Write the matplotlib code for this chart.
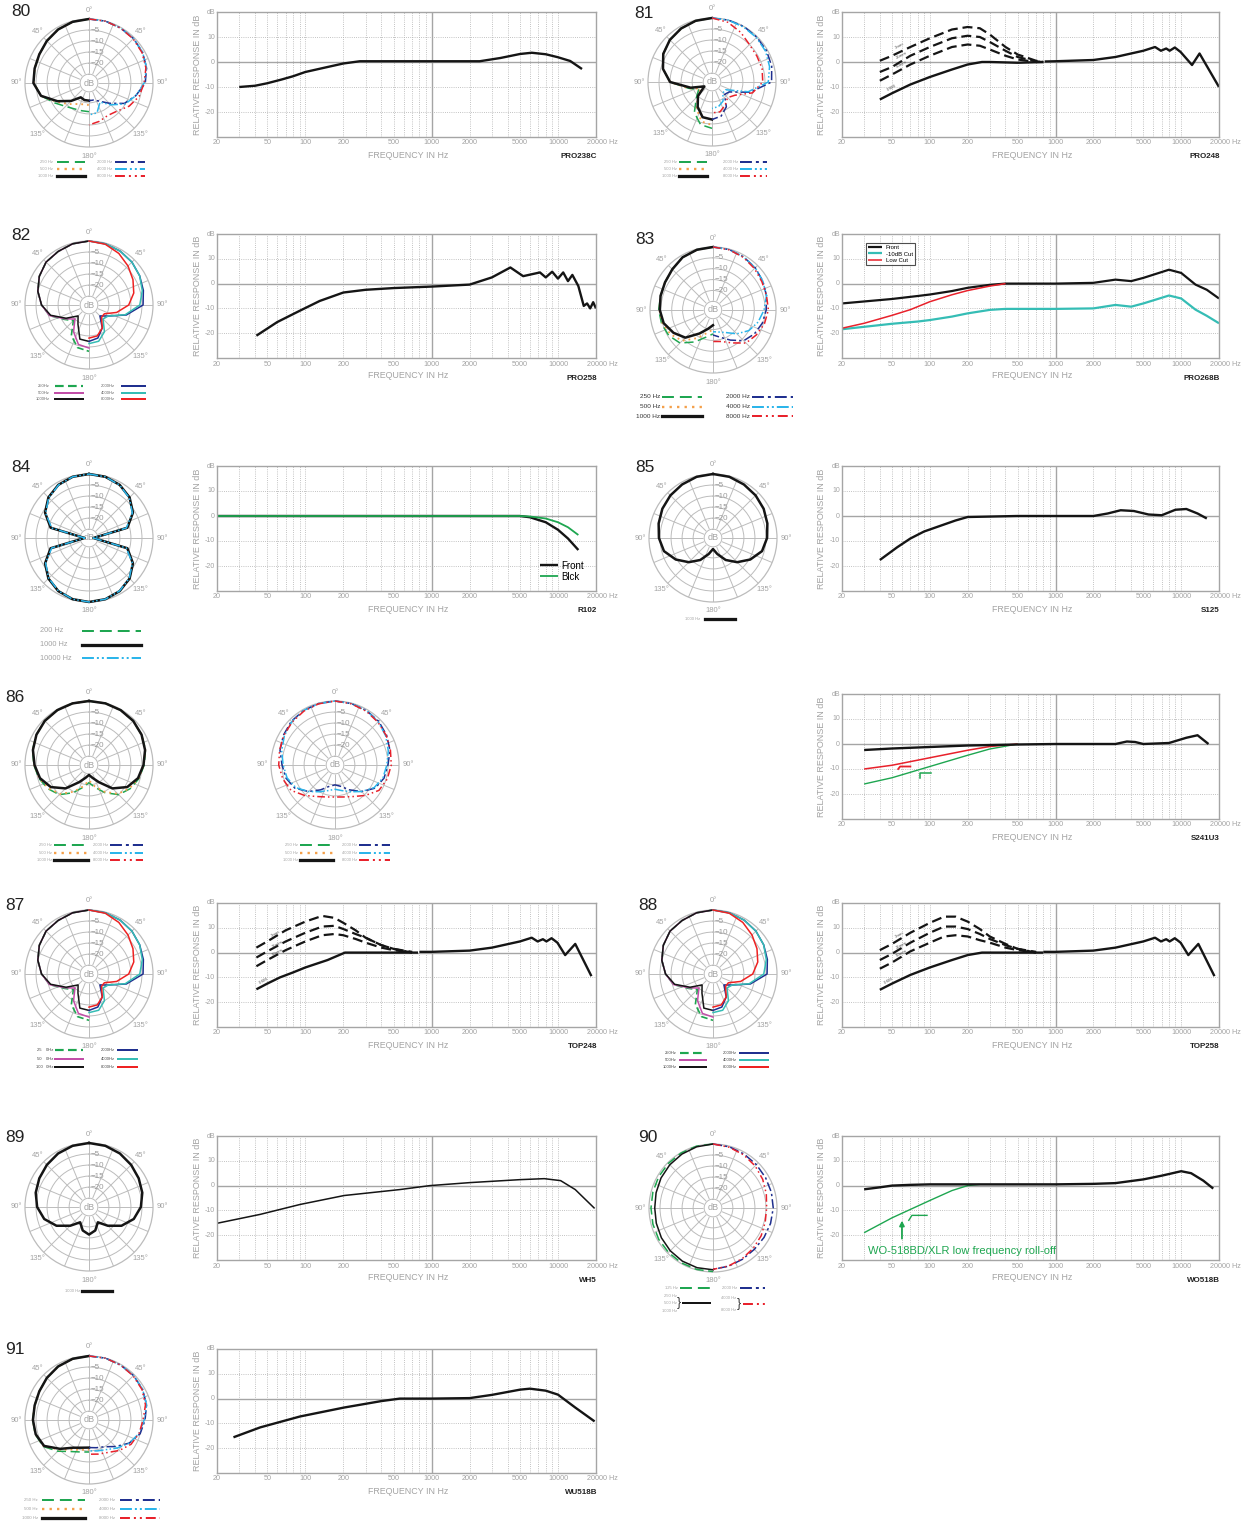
import numpy as np
import matplotlib.pyplot as plt
from matplotlib.lines import Line2D

plt.rcParams['font.family'] = ['Liberation Sans', 'DejaVu Sans']

W, H = 1249, 1523
fig = plt.figure(figsize=(W / 100, H / 100), dpi=100)

GRID = '#bcbcbc'
TXT = '#a3a3a3'

# ---------------- polar data (dB at 0..180 deg) ----------------
ANG = [0, 15, 30, 45, 60, 75, 90, 105, 120, 135, 150, 165, 180]

p80_250 = [0, -0.3, -1, -2, -3, -3.5, -4, -6.5, -11, -14, -15.5, -16, -16]
p80_500 = [0, -0.3, -1, -2, -3, -3.5, -4, -6.5, -12, -15.5, -18, -19, -19]
p80_1000 = [0, -0.3, -1, -2, -3, -3.5, -3.8, -6.5, -12.5, -17.5, -21.5, -21, -21]
p80_2000 = [0, 0, -0.3, -0.5, -1, -2, -3.5, -7, -10.5, -16, -19.5, -21, -21]
p80_4000 = [0, 0, -0.3, -0.5, -1, -2, -4, -7, -10, -15, -19, -15, -14.5]
p80_8000 = [0, 0, -0.3, -0.7, -1.3, -2.3, -4, -5.5, -8, -11, -12, -11, -10]

p81_250 = [0, -0.3, -1, -2, -3.5, -6, -10, -18, -22, -19, -13, -9, -8]
p81_500 = [0, -0.3, -1, -2, -3.5, -6, -10, -18, -23, -20, -15, -10.5, -9.5]
p81_1000 = [0, -0.3, -1, -2, -3.5, -6, -10, -19, -25, -20, -16, -12.5, -12]
p81_2000 = [0, 0, 0, -0.3, -0.5, -1, -2, -11, -20, -21, -16, -13, -12]
p81_4000 = [0, 0, -0.3, -0.5, -1, -2, -3.5, -12, -22, -22, -19, -17.5, -17]
p81_8000 = [0, -1, -3, -5, -5.5, -5.5, -6, -10, -17, -19, -17, -15, -15]

p82_250 = [0, -0.3, -1, -1.5, -3, -5, -7.5, -10.5, -16, -19, -13, -9, -8]
p82_500 = [0, -0.3, -1, -1.5, -3, -5, -7.5, -10.5, -16.5, -20, -15, -10.5, -9.5]
p82_1000 = [0, -0.3, -1, -1.5, -3, -5, -7.5, -11, -17, -22, -19, -13, -12.5]
p82_2000 = [0, -0.3, -0.8, -1.5, -2.5, -3.5, -4.5, -11.5, -19, -22, -17, -13.5, -12.5]
p82_4000 = [0, -0.3, -0.8, -1.5, -2.5, -4, -6, -12, -19, -20, -15, -12, -11.5]
p82_8000 = [0, -0.5, -2, -4, -6, -8, -11, -16, -21, -21, -17, -14.5, -14]

p83_250 = [0, -0.3, -1, -2.5, -3.5, -4, -4, -4.5, -5.5, -7.5, -12, -16, -18]
p83_500 = [0, -0.3, -1, -2.5, -3.5, -4, -4.3, -5, -6.5, -9, -14, -18, -20]
p83_1000 = [0, -0.3, -1, -2.5, -3.5, -4, -4.5, -5.5, -8, -11, -16.5, -20, -22]
p83_2000 = [0, -0.2, -0.8, -1.5, -2.5, -3.5, -4.5, -5.5, -7, -9, -13, -16, -17.5]
p83_4000 = [0, -0.2, -0.8, -1.5, -2.5, -3.5, -5.5, -7.5, -10, -13.5, -17, -18.5, -19]
p83_8000 = [0, -0.3, -1, -2, -3, -3.5, -3.5, -4.5, -6, -7.5, -11.5, -14, -14.5]

p84_200 = [0, -0.3, -1.2, -3, -6, -11, -27, -11, -6, -3, -1.2, -0.3, 0]
p84_1000 = [0, -0.3, -1.2, -3, -6, -11, -27, -11, -6, -3, -1.2, -0.3, 0]
p84_10000 = [0, -0.3, -1.3, -3.2, -6.3, -11.5, -27, -11.5, -6.3, -3.2, -1.3, -0.3, 0]

p85_1000 = [0, -0.3, -1, -1.7, -2.5, -3.5, -4.5, -6, -9.5, -13.5, -17.5, -21.5, -24]

p86_250 = [0, -0.1, -0.3, -0.7, -1.5, -2.5, -4, -5.5, -7.5, -10, -14.5, -18.5, -21]
p86_500 = [0, -0.1, -0.3, -0.7, -1.5, -2.6, -4.2, -5.7, -7.8, -10.5, -15, -19, -22]
p86_1000 = [0, -0.1, -0.3, -0.7, -1.5, -2.7, -4.3, -6, -9, -14, -20, -23, -24.5]
p86_2000 = [0, -0.2, -0.5, -1, -2, -3.2, -5, -6, -8, -12, -16, -19, -20]
p86_4000 = [0, -0.2, -0.5, -1.3, -2.5, -4, -5.5, -6.5, -8.5, -12, -15, -17, -18]
p86_8000 = [0, -0.3, -0.8, -1.5, -2.2, -3, -3.5, -4.5, -6, -9.5, -12.5, -14, -14.5]

p87_250 = [0, -0.3, -1, -1.5, -3, -5, -7.5, -10.5, -16, -19, -13, -9, -8]
p87_500 = [0, -0.3, -1, -1.5, -3, -5, -7.5, -10.5, -16.5, -20, -15, -10.5, -9.5]
p87_1000 = [0, -0.3, -1, -1.5, -3, -5, -7.5, -11, -17, -22, -19, -13, -12.5]
p87_2000 = [0, -0.3, -0.8, -1.5, -2.5, -3.5, -4.5, -11.5, -19, -22, -17, -13.5, -12.5]
p87_4000 = [0, -0.3, -0.8, -1.5, -2.5, -4, -6, -12, -19, -20, -15, -12, -11.5]
p87_8000 = [0, -0.5, -2, -4, -6, -8, -11, -16, -21, -21, -17, -14.5, -14]

p89_1000 = [0, -0.3, -1, -2, -3, -4, -5.5, -8, -12, -17, -21, -18, -16.5]

p90_125 = [0, 0, -0.2, -0.4, -0.6, -0.8, -0.9, -0.8, -0.6, -0.5, -0.3, -0.2, -0.2]
p90_1000 = [0, -0.3, -0.8, -1.3, -1.8, -2.3, -2.6, -2.4, -2, -1.6, -1.2, -1, -1]
p90_2000 = [0, -0.3, -0.8, -1.2, -1.5, -1.6, -1.7, -2, -2.3, -2.5, -2.2, -1.7, -1.2]
p90_8000 = [0, -0.5, -1.2, -2, -3, -4, -4.7, -4.5, -3.8, -3.2, -2.5, -1.8, -1.2]

p91_250 = [0, -0.3, -1, -2, -3, -3.5, -3.5, -3.8, -5, -9, -12.5, -14, -14.5]
p91_500 = [0, -0.3, -1, -2, -3, -3.5, -3.5, -3.9, -5.3, -10, -13.5, -15, -15.5]
p91_1000 = [0, -0.3, -1, -2, -3, -3.5, -3.6, -4, -5.5, -10.5, -14.5, -16, -16.5]
p91_2000 = [0, 0, -0.3, -0.5, -1, -2, -3.6, -5, -8, -12, -15, -16, -16.5]
p91_4000 = [0, 0, -0.3, -0.5, -1, -2, -4, -5.5, -8, -11, -13.5, -14.5, -15]
p91_8000 = [0, 0, -0.3, -0.7, -1.3, -2.5, -4.5, -5.5, -7, -9.5, -12, -13, -13.5]

# ---------------- frequency response data ----------------
pro238c_f = [30, 40, 50, 65, 80, 100, 150, 200, 270, 1000, 2400, 3500, 5000, 6200, 8000, 10000, 12500, 15500]
pro238c_db = [-10, -9.5, -8.5, -7, -5.7, -4, -2, -0.6, 0.3, 0.3, 0.3, 1.6, 3.2, 3.7, 3.1, 1.9, 0.4, -2.8]

pro248_f = [40, 50, 70, 100, 150, 200, 260, 300, 500, 800]
pro248_db = [-15, -12.5, -9, -6, -3, -1, 0, 0, -0.3, 0]
pro248_hf_f = [820, 1000, 2000, 3000, 5000, 6200, 6900, 7600, 8100, 8900, 9900, 12200, 14000, 20000]
pro248_hf_db = [0.2, 0.3, 0.8, 2, 4.5, 6, 4.5, 5.4, 4.5, 5.8, 4, -1.2, 3.4, -10]
pro248_d1_f = [40, 50, 70, 100, 150, 200, 250, 300, 400, 500, 700, 800]
pro248_d1_db = [0.5, 2.5, 6, 9.5, 13, 14, 13.5, 11, 6, 3, 0.5, 0]
pro248_d2_db = [-4, -2, 2.5, 6, 9.5, 10.5, 10, 8, 4.5, 2, 0.2, 0]
pro248_d3_db = [-7.5, -5, -1, 2.5, 6, 7, 6.5, 5, 2.5, 1, 0, 0]

pro258_f = [41, 60, 90, 130, 200, 300, 500, 1000, 2000, 3000, 4200, 5300, 6500, 7200, 8000, 9000,
            10000, 11000, 12000, 13000, 14500, 16000, 17000, 18000, 19000, 20000]
pro258_db = [-21, -15.5, -11, -7, -3.6, -2.5, -1.8, -1.2, -0.4, 2.5, 6.5, 3, 4, 4.5, 2.5, 4.8,
             2, 4.5, 1, 3.5, -1, -9, -8, -10, -7.5, -10]

pro268_f = [20, 50, 80, 100, 150, 200, 300, 400, 1000, 2000, 3000, 4000, 5000, 8000, 10000, 13000, 16000, 20000]
pro268_front = [-8, -6.2, -5, -4.4, -3, -1.7, -0.5, 0, 0, 0.3, 1.6, 1, 2.3, 5.6, 4.3, -0.4, -2.5, -6]
pro268_cut = [-18.4, -16.2, -15.3, -14.7, -13.3, -12, -10.6, -10.2, -10.2, -10, -8.6, -9.3, -8, -4.8, -6, -10.5, -13, -16]
pro268_low_f = [20, 30, 50, 70, 100, 150, 200, 300, 400]
pro268_low = [-18, -16, -12.8, -10.5, -7.3, -4.5, -2.8, -1, 0]

r102_f = [20, 5000, 6000, 8000, 10000, 12000, 14500]
r102_front = [0, 0, -0.5, -2.5, -5.5, -9, -13.6]
r102_back = [0, 0, -0.2, -1, -2.5, -4.5, -7.6]

s125_f = [40, 55, 70, 90, 120, 160, 200, 500, 1000, 2000, 2600, 3300, 4200, 5500, 7000, 9000, 11000, 13500, 16000]
s125_db = [-17.6, -12.5, -9, -6.2, -4, -1.8, -0.4, 0, 0, 0, 1, 2.3, 2, 0.6, 0.3, 2.5, 2.8, 1, -1]

s241_f = [30, 50, 100, 200, 500, 1000, 3000, 3700, 4300, 5000, 8000, 11000, 13500, 16500]
s241_db = [-2.4, -1.8, -1.2, -0.6, -0.2, 0, 0, 1, 0.8, 0, 0.4, 2.5, 3.5, 0]
s241_red_f = [30, 50, 100, 200, 300, 500]
s241_red = [-10, -8.5, -5.5, -2.5, -1, 0]
s241_green = [-16, -13.5, -9, -4.5, -2, 0]

top248_f = [41, 50, 63, 80, 100, 150, 206, 400, 780]
top248_db = [-14.8, -12.5, -10, -8, -6, -3, 0, 0, 0]
top248_hf_f = [800, 1000, 2000, 3000, 5000, 6200, 6900, 7600, 8100, 8900, 9900, 11400, 13700, 18400]
top248_hf_db = [0.3, 0.3, 0.8, 2, 4.5, 6, 4.5, 5.4, 4.5, 5.8, 4, -1, 3.5, -9.5]
top248_d_f = [41, 50, 70, 100, 136, 170, 200, 250, 300, 400, 500, 700]
top248_d1 = [2, 4.5, 9, 12.5, 14.8, 14, 12, 9, 6, 3, 1.5, 0]
top248_d2 = [-2, 0.5, 4.5, 8, 10.5, 10.8, 9.5, 7.5, 6, 3, 1.5, 0.3]
top248_d3 = [-5.5, -3, 1, 4.5, 7, 7.5, 7, 5.5, 4, 2, 1, 0]

top258_f = [40, 50, 70, 100, 150, 200, 260, 300, 500, 800]
top258_db = [-15, -12.5, -9, -6, -3, -1, 0, 0, 0, 0]
top258_d_f = [40, 50, 70, 100, 130, 160, 200, 250, 300, 400, 500, 700]
top258_d1 = [1, 3.5, 8, 12, 14.5, 14.5, 12.5, 9.5, 6.5, 3.5, 1.5, 0]
top258_d2 = [-3, -0.5, 4, 8, 10.5, 10.5, 9.5, 7.5, 5.5, 3, 1.5, 0.3]
top258_d3 = [-6.5, -4, 0.5, 4, 6.5, 7, 6.5, 5, 4, 2, 1, 0]

wh5_f = [20, 44, 91, 203, 560, 970, 2000, 5000, 7800, 10500, 13700, 19500]
wh5_db = [-15.2, -11.6, -7.6, -4, -1.6, 0, 1.2, 2.4, 2.8, 2, -1.6, -9.2]

wo518_f = [30, 40, 50, 70, 100, 200, 1000, 2000, 3000, 5000, 7000, 10000, 12000, 15000, 18000]
wo518_db = [-1.5, -0.7, 0, 0.3, 0.5, 0.5, 0.5, 0.7, 1, 2.5, 4, 5.8, 5, 2, -1.2]
wo518_lf_f = [30, 50, 100, 150, 200, 250]
wo518_lf_db = [-19, -13, -6, -2, 0, 0.5]

wu518_f = [27, 44, 91, 203, 400, 560, 1000, 2000, 3000, 5000, 6000, 8000, 10000, 13700, 19500]
wu518_db = [-15.6, -11.6, -7.2, -3.6, -1, 0, 0, 0.2, 1.5, 3.6, 4, 3.2, 1.6, -3.6, -9.2]

# ---------------- styles ----------------
STY = {
    'g': ('#1ea650', (0, (6, 3)), 1.1),
    'o': ('#f4a04a', (0, (1, 2.2)), 1.3),
    'k': ('#151515', '-', 1.8),
    'n': ('#1f2f8f', (0, (6, 2, 1.5, 2)), 1.1),
    'c': ('#2bb5ea', (0, (6, 1.5, 1, 1.5, 1, 1.5)), 1.1),
    'r': ('#e8212b', (0, (5, 2, 1, 2, 1, 2)), 1.1),
    'g2': ('#1ea650', (0, (4, 2)), 1.2),
    'm': ('#c24ea8', '-', 1.1),
    'k2': ('#151515', '-', 1.1),
    'n2': ('#1f2f8f', '-', 1.1),
    't': ('#35bdb5', '-', 1.1),
    'r2': ('#ee2222', '-', 1.1),
}

RMIN = -29.0
SPOKE = 22.5


def px_axes(x0, y0, x1, y1, **kw):
    return fig.add_axes([x0 / W, 1 - y1 / H, (x1 - x0) / W, (y1 - y0) / H], **kw)


def ftext(x, y, s, **kw):
    return fig.text(x / W, 1 - y / H, s, **kw)


def fline(x0, x1, y, key, scale=1.3):
    color, ls, lw = STY[key]
    fig.add_artist(Line2D([x0 / W, x1 / W], [1 - y / H] * 2, color=color, ls=ls, lw=lw * scale))


def polar(cx, cy, num, curves, num_xy=None, R=64):
    ax = px_axes(cx - R, cy - R, cx + R, cy + R, projection='polar')
    ax.set_theta_zero_location('N')
    ax.set_theta_direction(-1)
    ax.set_ylim(RMIN, 0)
    ax.set_yticks([-20, -15, -10, -5])
    ax.set_yticklabels([])
    ax.set_xticks(np.deg2rad(np.arange(0, 360, SPOKE)))
    ax.set_xticklabels([])
    ax.grid(True, color=GRID, lw=0.7)
    ax.spines['polar'].set_color(GRID)
    ax.spines['polar'].set_linewidth(0.9)
    t = np.linspace(0, 2 * np.pi, 120)
    ax.fill(t, np.full_like(t, -25.0), color='white', zorder=2)
    ax.plot(t, np.full_like(t, -25.0), color=GRID, lw=0.7, zorder=2.1)
    ax.text(0, RMIN, 'dB', ha='center', va='center', fontsize=6.5, color=TXT, zorder=3)
    ang = np.array(ANG, float)
    for side, vals, key in curves:
        color, ls, lw = STY[key]
        v = np.asarray(vals, float)
        if side == 'L':
            th = -ang
        elif side == 'R':
            th = ang
        else:
            th = np.concatenate([ang, 360 - ang[::-1]])
            v = np.concatenate([v, v[::-1]])
        ax.plot(np.deg2rad(th), v, color=color, ls=ls, lw=lw, zorder=4, clip_on=False)
    for d in [-5, -10, -15, -20]:
        rr = R * (d - RMIN) / (-RMIN)
        ftext(cx + 1.5, cy - rr, '\u2212%d' % -d, ha='left', va='center', fontsize=5.8, color='#999999')
    for a, s in [(0, '0°'), (45, '45°'), (-45, '45°'), (90, '90°'), (-90, '90°'),
                 (135, '135°'), (-135, '135°'), (180, '180°')]:
        rr = R + 9
        x = cx + rr * np.sin(np.deg2rad(a))
        y = cy - rr * np.cos(np.deg2rad(a))
        ftext(x, y, s, ha='center', va='center', fontsize=5.5, color=TXT)
    if num is not None:
        ftext(num_xy[0], num_xy[1], num, ha='left', va='center', fontsize=12.5, color='#222222')
    return ax


def legend(items, xt, xl0, xl1, y0, dy, fs=3.0, ha='right', color=TXT, scale=1.3):
    for i, (lab, key) in enumerate(items):
        y = y0 + i * dy
        ftext(xt, y, lab, ha=ha, va='center', fontsize=fs, color=color)
        fline(xl0, xl1, y, key, scale)


MINOR_F = [30, 40, 50, 60, 70, 80, 90, 100, 200, 300, 400, 500, 600, 700, 800, 900,
           2000, 3000, 4000, 5000, 6000, 7000, 8000, 9000, 10000]
MAJOR_F = [20, 50, 100, 200, 500, 1000, 2000, 5000, 10000]
LINE = {
    'solid': dict(color='#151515', lw=1.7),
    'thin': dict(color='#151515', lw=1.1),
    'dash': dict(color='#151515', lw=1.6, ls=(0, (4.5, 2.2))),
    'green': dict(color='#1ea650', lw=1.3),
    'green_thin': dict(color='#1ea650', lw=1.0),
    'red': dict(color='#e8212b', lw=1.1),
    'teal': dict(color='#35bdb5', lw=1.6),
    'front': dict(color='#151515', lw=1.6),
}


def freq(x0, y0, x1, y1, model, curves):
    ax = px_axes(x0, y0, x1, y1)
    ax.set_xscale('log')
    ax.set_xlim(20, 20000)
    ax.set_ylim(-30, 20)
    for f in MINOR_F:
        ax.axvline(f, color='#b0b0b0', lw=0.6, ls=(0, (1, 1.6)), zorder=0)
    for d in [10, -10, -20]:
        ax.axhline(d, color='#b0b0b0', lw=0.6, ls=(0, (1, 1.6)), zorder=0)
    ax.axhline(0, color='#a5a5a5', lw=1.0, zorder=0.5)
    ax.axvline(1000, color='#a5a5a5', lw=1.0, zorder=0.5)
    ax.set_xticks([])
    ax.set_yticks([])
    ax.minorticks_off()
    for s in ax.spines.values():
        s.set_color('#a5a5a5')
        s.set_linewidth(1.0)
    tx = ax.get_xaxis_transform()
    for f in MAJOR_F:
        ax.annotate(str(f), xy=(f, 0), xycoords=tx, xytext=(0, -6), textcoords='offset pixels',
                    ha='center', va='center', fontsize=5.2, color=TXT, annotation_clip=False)
    ax.annotate('20000 Hz', xy=(20000, 0), xycoords=tx, xytext=(-9, -6), textcoords='offset pixels',
                ha='left', va='center', fontsize=5.2, color=TXT, annotation_clip=False)
    ty = ax.get_yaxis_transform()
    for d, s in [(20, 'dB'), (10, '10'), (0, '0'), (-10, '-10'), (-20, '-20')]:
        ax.annotate(s, xy=(0, d), xycoords=ty, xytext=(-2, 0), textcoords='offset pixels',
                    ha='right', va='center', fontsize=5.0, color=TXT, annotation_clip=False)
    ftext(x0 - 20, (y0 + y1) / 2, 'RELATIVE RESPONSE IN dB', rotation=90, ha='center', va='center',
          fontsize=6.5, color=TXT)
    ftext((x0 + x1) / 2 + 2, y1 + 18, 'FREQUENCY IN Hz', ha='center', va='center', fontsize=6.4, color=TXT)
    ftext(x1 + 1, y1 + 20, model, ha='right', va='center', fontsize=5.8, fontweight='bold', color='#222222')
    for f, db, st, lab in curves:
        ax.plot(f, db, label=lab, solid_capstyle='butt', **LINE[st])
    return ax


# ================= row 80 / 81 =================
polar(89, 83, '80', [('L', p80_250, 'g'), ('L', p80_500, 'o'), ('L', p80_1000, 'k'),
                     ('R', p80_2000, 'n'), ('R', p80_4000, 'c'), ('R', p80_8000, 'r')], (11, 12))
legend([('250 Hz', 'g'), ('500 Hz', 'o'), ('1000 Hz', 'k')], 53, 57, 85, 162, 7)
legend([('2000 Hz', 'n'), ('4000 Hz', 'c'), ('8000 Hz', 'r')], 112, 115, 145, 162, 7)
freq(217, 12, 596, 137, 'PRO238C', [(pro238c_f, pro238c_db, 'solid', None)])

polar(712, 82, '81', [('L', p81_250, 'g'), ('L', p81_500, 'o'), ('L', p81_1000, 'k'),
                      ('R', p81_2000, 'n'), ('R', p81_4000, 'c'), ('R', p81_8000, 'r')], (634, 13))
legend([('250 Hz', 'g'), ('500 Hz', 'o'), ('1000 Hz', 'k')], 677, 679, 707, 162, 7)
legend([('2000 Hz', 'n'), ('4000 Hz', 'c'), ('8000 Hz', 'r')], 738, 740, 767, 162, 7)
ax = freq(842, 12, 1219, 137, 'PRO248', [
    (pro248_d1_f, pro248_d1_db, 'dash', None), (pro248_d1_f, pro248_d2_db, 'dash', None),
    (pro248_d1_f, pro248_d3_db, 'dash', None), (pro248_f, pro248_db, 'solid', None),
    (pro248_hf_f, pro248_hf_db, 'solid', None)])
for f, d, s in [(57, 6.5, '3mm'), (60, 2.5, '25mm'), (60, -0.8, '50mm'), (50, -10.5, '0.6M')]:
    ax.text(f, d, s, fontsize=3.2, color='#555555', rotation=28, ha='center', va='center')

# ================= row 82 / 83 =================
polar(89, 305, '82', [('L', p82_250, 'g2'), ('L', p82_500, 'm'), ('L', p82_1000, 'k2'),
                      ('R', p82_2000, 'n2'), ('R', p82_4000, 't'), ('R', p82_8000, 'r2')], (11, 235))
legend([('250Hz', 'g2'), ('500Hz', 'm'), ('1000Hz', 'k2')], 50, 55, 83, 386, 6.5, color='#666666')
legend([('2000Hz', 'n2'), ('4000Hz', 't'), ('8000Hz', 'r2')], 115, 122, 145, 386, 6.5, color='#666666')
freq(217, 234, 596, 358, 'PRO258', [(pro258_f, pro258_db, 'solid', None)])

polar(713, 310, '83', [('L', p83_250, 'g'), ('L', p83_500, 'o'), ('L', p83_1000, 'k'),
                       ('R', p83_2000, 'n'), ('R', p83_4000, 'c'), ('R', p83_8000, 'r')], (635, 240), R=63)
legend([('250 Hz', 'g'), ('500 Hz', 'o'), ('1000 Hz', 'k')], 660, 662, 702, 397, 9.5, fs=4.6, color='#333333')
legend([('2000 Hz', 'n'), ('4000 Hz', 'c'), ('8000 Hz', 'r')], 750, 752, 793, 397, 9.5, fs=4.6, color='#333333')
ax = freq(842, 234, 1219, 358, 'PRO268B', [
    (pro268_f, pro268_front, 'front', 'Front'), (pro268_f, pro268_cut, 'teal', '-10dB Cut'),
    (pro268_low_f, pro268_low, 'red', 'Low Cut')])
lg = ax.legend(loc='upper left', bbox_to_anchor=(0.055, 0.95), fontsize=4.3, frameon=True, fancybox=False,
               handlelength=2.4, borderpad=0.35, labelspacing=0.15, handletextpad=0.6)
lg.get_frame().set_edgecolor('#222222')
lg.get_frame().set_linewidth(0.8)

# ================= row 84 / 85 =================
polar(89, 538, '84', [('B', p84_200, 'g'), ('B', p84_1000, 'k'), ('B', p84_10000, 'c')], (11, 468))
legend([('200 Hz', 'g'), ('1000 Hz', 'k'), ('10000 Hz', 'c')], 40, 82, 141, 631, 13.5, fs=5.3, ha='left')
ax = freq(217, 466, 596, 591, 'R102', [(r102_f, r102_front, 'solid', 'Front'),
                                         (r102_f, r102_back, 'green', 'Blck')])
ax.legend(loc='lower right', bbox_to_anchor=(0.985, 0.02), fontsize=7, frameon=False, handlelength=1.8,
          labelspacing=0.1, handletextpad=0.3, borderpad=0.2)

polar(713, 538, '85', [('B', p85_1000, 'k')], (635, 468))
legend([('1000 Hz', 'k')], 700, 705, 735, 619, 0)
freq(842, 466, 1219, 591, 'S125', [(s125_f, s125_db, 'solid', None)])

# ================= row 86 =================
polar(89, 765, '86', [('B', p86_250, 'g'), ('B', p86_500, 'o'), ('B', p86_1000, 'k')], (5, 697))
legend([('250 Hz', 'g'), ('500 Hz', 'o'), ('1000 Hz', 'k')], 52, 54, 88, 845, 7.5)
legend([('2000 Hz', 'n'), ('4000 Hz', 'c'), ('8000 Hz', 'r')], 108, 110, 143, 845, 7.5)
polar(335, 765, None, [('B', p86_2000, 'n'), ('B', p86_4000, 'c'), ('B', p86_8000, 'r')])
legend([('250 Hz', 'g'), ('500 Hz', 'o'), ('1000 Hz', 'k')], 298, 300, 333, 845, 7.5)
legend([('2000 Hz', 'n'), ('4000 Hz', 'c'), ('8000 Hz', 'r')], 357, 359, 390, 845, 7.5)
ax = freq(842, 694, 1219, 819, 'S241U3', [(s241_red_f, s241_green, 'green_thin', None),
                                           (s241_red_f, s241_red, 'red', None),
                                           (s241_f, s241_db, 'solid', None)])
ax.plot([56, 58, 70], [-10, -9, -9], color='#e8212b', lw=1.3)
ax.plot([84, 84, 102], [-13.5, -11.7, -11.7], color='#1ea650', lw=1.1)

# ================= row 87 / 88 =================
polar(89, 974, '87', [('L', p87_250, 'g2'), ('L', p87_500, 'm'), ('L', p87_1000, 'k2'),
                      ('R', p87_2000, 'n2'), ('R', p87_4000, 't'), ('R', p87_8000, 'r2')], (5, 906))
legend([('25    0Hz', 'g2'), ('50    0Hz', 'm'), ('100   0Hz', 'k2')], 53, 55, 83, 1050, 8.5, color='#444444')
legend([('2000Hz', 'n2'), ('4000Hz', 't'), ('8000Hz', 'r2')], 115, 118, 137, 1050, 8.5, color='#444444')
ax = freq(217, 903, 596, 1027, 'TOP248', [
    (top248_d_f, top248_d1, 'dash', None), (top248_d_f, top248_d2, 'dash', None),
    (top248_d_f, top248_d3, 'dash', None), (top248_f, top248_db, 'solid', None),
    (top248_hf_f, top248_hf_db, 'solid', None)])
for f, d, s in [(58, 7.5, '3mm'), (60, 3.5, '25mm'), (60, 0.2, '50mm'), (47, -11.5, '0.6M')]:
    ax.text(f, d, s, fontsize=3.2, color='#555555', rotation=28, ha='center', va='center')

polar(713, 974, '88', [('L', p87_250, 'g2'), ('L', p87_500, 'm'), ('L', p87_1000, 'k2'),
                       ('R', p87_2000, 'n2'), ('R', p87_4000, 't'), ('R', p87_8000, 'r2')], (638, 906))
legend([('250Hz', 'g2'), ('500Hz', 'm'), ('1000Hz', 'k2')], 677, 680, 706, 1053, 7, color='#444444')
legend([('2000Hz', 'n2'), ('4000Hz', 't'), ('8000Hz', 'r2')], 737, 740, 768, 1053, 7, color='#444444')
ax = freq(842, 903, 1219, 1027, 'TOP258', [
    (top258_d_f, top258_d1, 'dash', None), (top258_d_f, top258_d2, 'dash', None),
    (top258_d_f, top258_d3, 'dash', None), (top258_f, top258_db, 'solid', None),
    (top248_hf_f, top248_hf_db, 'solid', None)])
for f, d, s in [(57, 7, '3mm'), (60, 3, '25mm'), (60, -0.3, '50mm'), (47, -11.5, '0.6M')]:
    ax.text(f, d, s, fontsize=3.2, color='#555555', rotation=28, ha='center', va='center')

# ================= row 89 / 90 =================
polar(89, 1207, '89', [('B', p89_1000, 'k')], (5, 1137))
legend([('1000 Hz', 'k')], 80, 82, 112, 1291, 0)
freq(217, 1136, 596, 1260, 'WH5', [(wh5_f, wh5_db, 'thin', None)])

polar(713, 1208, '90', [('L', p90_125, 'g'), ('L', p90_1000, 'k2'),
                        ('R', p90_2000, 'n'), ('R', p90_8000, 'r')], (638, 1137))
legend([('125 Hz', 'g')], 678, 680, 710, 1288, 0)
for i, s in enumerate(['250 Hz', '500 Hz', '1000 Hz']):
    ftext(677, 1296 + 7.5 * i, s, ha='right', va='center', fontsize=3.0, color=TXT)
ftext(679, 1303, '}', ha='center', va='center', fontsize=9, color='#333333')
fline(683, 710, 1303, 'k', 0.8)
legend([('2000 Hz', 'n')], 737, 740, 765, 1288, 0)
for i, s in enumerate(['4000 Hz', '8000 Hz']):
    ftext(736, 1298 + 12 * i, s, ha='right', va='center', fontsize=3.0, color=TXT)
ftext(739, 1304, '}', ha='center', va='center', fontsize=9, color='#333333')
fline(743, 768, 1304, 'r')
ax = freq(842, 1136, 1219, 1260, 'WO518B', [(wo518_lf_f, wo518_lf_db, 'green_thin', None),
                                            (wo518_f, wo518_db, 'solid', None)])
ax.annotate('', xy=(60, -13), xytext=(60, -22.5),
            arrowprops=dict(arrowstyle='-|>', color='#1ea650', lw=1.3, mutation_scale=7))
ax.plot([68, 72, 95], [-14, -12, -12], color='#1ea650', lw=1.0)
ax.text(32, -26.5, 'WO-518BD/XLR low frequency roll-off', color='#1ea650', fontsize=8, ha='left', va='center')

# ================= row 91 =================
polar(89, 1420, '91', [('L', p91_250, 'g'), ('L', p91_500, 'o'), ('L', p91_1000, 'k'),
                       ('R', p91_2000, 'n'), ('R', p91_4000, 'c'), ('R', p91_8000, 'r')], (5, 1350))
legend([('250 Hz', 'g'), ('500 Hz', 'o'), ('1000 Hz', 'k')], 38, 42, 85, 1500, 9, fs=3.2)
legend([('2000 Hz', 'n'), ('4000 Hz', 'c'), ('8000 Hz', 'r')], 115, 120, 160, 1500, 9, fs=3.2)
freq(217, 1349, 596, 1473, 'WU518B', [(wu518_f, wu518_db, 'solid', None)])

fig.savefig('out.png', dpi=100, facecolor='white')
